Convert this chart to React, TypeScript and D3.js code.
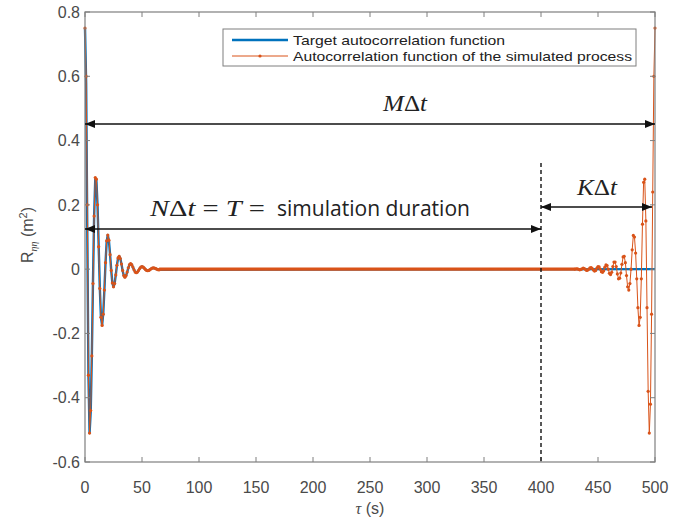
import React from 'react';
import * as d3 from 'd3';

// ---------- data ----------
const xTicks = [0, 50, 100, 150, 200, 250, 300, 350, 400, 450, 500];
const yTicks = [-0.6, -0.4, -0.2, 0, 0.2, 0.4, 0.6, 0.8];
const yTickLabels = ['-0.6', '-0.4', '-0.2', '0', '0.2', '0.4', '0.6', '0.8'];
const dt = 1; // seconds between samples
const totalDuration = 500; // M·Δt
const simDuration = 400; // N·Δt

// target autocorrelation, tau = 0, 1, 2, ... (s)
const targetHead = [
  0.75, 0.58, 0.12, -0.325, -0.51, -0.444, -0.268, -0.04, 0.164, 0.279,
  0.276, 0.197, 0.071, -0.059, -0.15, -0.174, -0.138, -0.065, 0.02, 0.085,
  0.106, 0.088, 0.0455, -0.004, -0.0425, -0.055, -0.044, -0.018, 0.012, 0.034,
  0.04, 0.033, 0.0156, -0.0045, -0.02, -0.025, -0.02, -0.009, 0.004, 0.014,
  0.017, 0.014, 0.0065, -0.002, -0.009, -0.011, -0.009, -0.004, 0.002, 0.0065,
  0.008, 0.0065, 0.003, -0.001, -0.004, -0.005, -0.004, -0.0016, 0.0012, 0.0033,
  0.004, 0.0033, 0.0017, -0.0001, -0.0015, -0.002,
];
// simulated-process autocorrelation, tau = 0, 1, 2, ... (s)
const simHead = [
  0.75, 0.6, 0.2, -0.33, -0.51, -0.44, -0.27, -0.045, 0.165, 0.285,
  0.28, 0.2, 0.07, -0.06, -0.15, -0.175, -0.14, -0.065, 0.02, 0.088,
  0.106, 0.09, 0.045, -0.004, -0.043, -0.055, -0.045, -0.018, 0.012, 0.035,
  0.04, 0.033, 0.016, -0.004, -0.02, -0.025, -0.02, -0.009, 0.004, 0.014,
  0.017, 0.014, 0.0065, -0.002, -0.009, -0.011, -0.009, -0.004, 0.002, 0.0065,
  0.008, 0.0065, 0.003, -0.001, -0.004, -0.005, -0.004, -0.0016, 0.0012, 0.0033,
  0.004, 0.0033, 0.0017, -0.0001, -0.0015, -0.002,
];
// simulated-process autocorrelation near the end, tau = 500, 499, 498, ... (s)
const simTailFromEnd = [
  0.75, 0.6, 0.24, -0.14, -0.42, -0.51, -0.38, -0.12, 0.15, 0.28,
  0.27, 0.14, -0.03, -0.15, -0.175, -0.12, -0.03, 0.05, 0.1, 0.105,
  0.06, 0.0, -0.045, -0.065, -0.055, -0.02, 0.02, 0.04, 0.038, 0.015,
  -0.012, -0.028, -0.03, -0.015, 0.008, 0.022, 0.022, 0.008, -0.01, -0.017,
  -0.013, 0.0, 0.011, 0.013, 0.006, -0.005, -0.01, -0.008, 0.0, 0.007,
  0.008, 0.003, -0.004, -0.006, -0.003, 0.002, 0.005, 0.004, 0.0, -0.003,
  -0.004, -0.001, 0.002, 0.003, 0.001, -0.001, -0.002, -0.001, 0.001, 0.001,
  0.0,
];
const legendLabels = ['Target autocorrelation function', 'Autocorrelation function of the simulated process'];

// ---------- layout ----------
const W = 697;
const H = 519;
const BLUE = '#0072BD';
const ORANGE = '#D95319';
const AXIS = '#7f7f7f';
const LABEL = '#4a4a4a';

const x = d3.scaleLinear().domain([0, 500]).range([85, 655]);
const y = d3.scaleLinear().domain([-0.6, 0.8]).range([462, 12]);

export default function App() {
  const headPts: [number, number][] = simHead.map((v, i) => [i * dt, v]);
  const tailPts: [number, number][] = simTailFromEnd
    .map((v, k) => [totalDuration - k * dt, v] as [number, number])
    .reverse();
  const targetPts: [number, number][] = [
    ...targetHead.map((v, i) => [i * dt, v] as [number, number]),
    [totalDuration, 0],
  ];
  const simPts = [...headPts, ...tailPts];
  const flatFrom = headPts[headPts.length - 1][0];
  const flatTo = tailPts[0][0];

  const line = d3
    .line<[number, number]>()
    .x((d) => x(d[0]))
    .y((d) => y(d[1]));

  const x0 = x(0);
  const x1 = x(500);
  const yT = y(0.8);
  const yB = y(-0.6);
  const tickLen = 5;

  const xDash = x(simDuration);
  const yM = 124;
  const yN = 229;
  const yK = 207;

  return (
    <svg
      width={W}
      height={H}
      style={{ position: 'absolute', left: 0, top: 0, background: '#fff' }}
      fontFamily="'Liberation Sans', Arial, sans-serif"
    >
      <defs>
        <marker
          id="ah"
          viewBox="0 0 10 8"
          refX="10"
          refY="4"
          markerWidth="11"
          markerHeight="8"
          markerUnits="userSpaceOnUse"
          orient="auto-start-reverse"
        >
          <path d="M0,0 L10,4 L0,8 z" fill="#111" />
        </marker>
      </defs>
      <rect x={0} y={0} width={W} height={H} fill="#fff" />

      {/* target */}
      <path d={line(targetPts) || ''} fill="none" stroke={BLUE} strokeWidth={2.4} strokeLinejoin="round" />
      {/* simulated: dense flat part rendered as marker band */}
      <line x1={x(flatFrom)} x2={x(flatTo)} y1={y(0)} y2={y(0)} stroke={ORANGE} strokeWidth={3.2} />
      <path d={line(simPts) || ''} fill="none" stroke={ORANGE} strokeWidth={1} strokeLinejoin="round" />
      {simPts.map((d, i) => (
        <circle key={i} cx={x(d[0])} cy={y(d[1])} r={1.6} fill={ORANGE} />
      ))}

      {/* axes box */}
      <rect x={x0} y={yT} width={x1 - x0} height={yB - yT} fill="none" stroke={AXIS} strokeWidth={1.2} />
      {xTicks.map((t) => (
        <g key={'xt' + t}>
          <line x1={x(t)} x2={x(t)} y1={yB} y2={yB - tickLen} stroke={AXIS} strokeWidth={1} />
          <line x1={x(t)} x2={x(t)} y1={yT} y2={yT + tickLen} stroke={AXIS} strokeWidth={1} />
          <text x={x(t)} y={493} textAnchor="middle" fontSize={16} fill={LABEL}>
            {t}
          </text>
        </g>
      ))}
      {yTicks.map((t, i) => (
        <g key={'yt' + t}>
          <line x1={x0} x2={x0 + tickLen} y1={y(t)} y2={y(t)} stroke={AXIS} strokeWidth={1} />
          <line x1={x1} x2={x1 - tickLen} y1={y(t)} y2={y(t)} stroke={AXIS} strokeWidth={1} />
          <text x={80} y={y(t)} dy="0.36em" textAnchor="end" fontSize={16} fill={LABEL}>
            {yTickLabels[i]}
          </text>
        </g>
      ))}

      {/* axis labels */}
      <text x={370} y={514} textAnchor="middle" fontSize={16} fill={LABEL}>
        <tspan fontFamily="'Liberation Serif', serif" fontStyle="italic">τ</tspan>
        <tspan> (s)</tspan>
      </text>
      <text transform="translate(33,235) rotate(-90)" textAnchor="middle" fontSize={16} fill={LABEL}>
        <tspan>R</tspan>
        <tspan fontSize={10} dy={4} fontFamily="'Liberation Serif', serif" fontStyle="italic">ηη</tspan>
        <tspan dy={-4}> (m</tspan>
        <tspan fontSize={11} dy={-6}>2</tspan>
        <tspan dy={6}>)</tspan>
      </text>

      {/* dashed line at N·Δt */}
      <line x1={xDash} x2={xDash} y1={163} y2={yB} stroke="#111" strokeWidth={1.4} strokeDasharray="4,3" />

      {/* arrows */}
      <line x1={x0} x2={x1} y1={yM} y2={yM} stroke="#111" strokeWidth={1.4} markerStart="url(#ah)" markerEnd="url(#ah)" />
      <line x1={x0} x2={xDash} y1={yN} y2={yN} stroke="#111" strokeWidth={1.4} markerStart="url(#ah)" markerEnd="url(#ah)" />
      <line x1={xDash} x2={x1 - 3} y1={yK} y2={yK} stroke="#111" strokeWidth={1.4} markerStart="url(#ah)" markerEnd="url(#ah)" />

      {/* annotation texts */}
      <text x={383} y={111} fontSize={23} fill="#222" fontFamily="'Liberation Serif', serif" textLength={44} lengthAdjust="spacingAndGlyphs">
        <tspan fontStyle="italic">M</tspan>
        <tspan>Δ</tspan>
        <tspan fontStyle="italic">t</tspan>
      </text>
      <text x={577} y={195} fontSize={23} fill="#222" fontFamily="'Liberation Serif', serif" textLength={40} lengthAdjust="spacingAndGlyphs">
        <tspan fontStyle="italic">K</tspan>
        <tspan>Δ</tspan>
        <tspan fontStyle="italic">t</tspan>
      </text>
      <text x={150} y={216} fontSize={23} fill="#222" fontFamily="'Liberation Serif', serif" textLength={115} lengthAdjust="spacingAndGlyphs">
        <tspan fontStyle="italic">N</tspan>
        <tspan>Δ</tspan>
        <tspan fontStyle="italic">t</tspan>
        <tspan> = </tspan>
        <tspan fontStyle="italic">T</tspan>
        <tspan> =</tspan>
      </text>
      <text x={277} y={216} fontSize={21} fill="#222" fontFamily="'Open Sans', sans-serif" textLength={193} lengthAdjust="spacingAndGlyphs">
        simulation duration
      </text>

      {/* legend */}
      <rect x={223} y={29} width={413} height={37} fill="#fff" stroke={AXIS} strokeWidth={1} />
      <line x1={232} x2={288} y1={40} y2={40} stroke={BLUE} strokeWidth={2.4} />
      <line x1={232} x2={288} y1={56} y2={56} stroke={ORANGE} strokeWidth={1} />
      <circle cx={260} cy={56} r={1.6} fill={ORANGE} />
      <text x={293} y={44.5} fontSize={13} fill="#222" textLength={212} lengthAdjust="spacingAndGlyphs">
        {legendLabels[0]}
      </text>
      <text x={293} y={60.5} fontSize={13} fill="#222" textLength={339} lengthAdjust="spacingAndGlyphs">
        {legendLabels[1]}
      </text>
    </svg>
  );
}
